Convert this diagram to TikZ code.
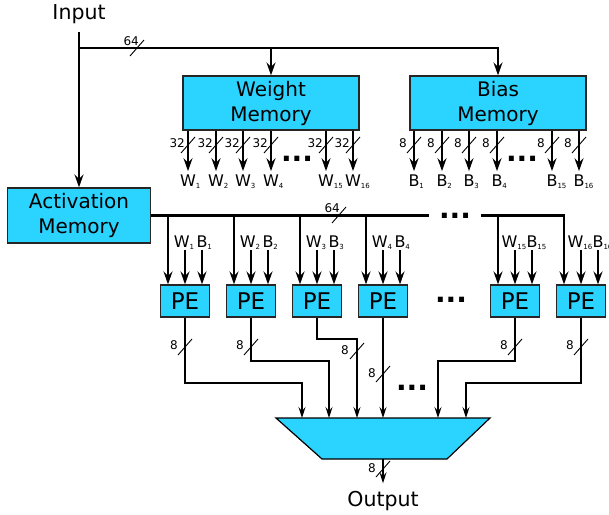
\documentclass[tikz,border=0pt]{standalone}
\usepackage{fontspec}
\setmainfont{DejaVu Sans}
\usetikzlibrary{arrows.meta}

\definecolor{memcyan}{RGB}{43,211,255}

\newcommand{\wsub}[1]{\raisebox{-2pt}{\fontsize{7}{7}\selectfont #1}}
\newcommand{\busw}[5]{%
	\draw[slash] (#1-7,#2+8) -- (#1+7,#2-8);
	\node[num,anchor=east] (s#1x#2) at ({#1+(#4)},{#2+(#5)}) {#3};}

\tikzset{
	mem/.style={draw=black!85,line width=1.2pt,fill=memcyan,minimum width=176pt,minimum height=54pt,inner sep=0pt,align=center,font=\fontsize{20}{25}\selectfont},
	pebox/.style={draw=black!85,line width=1.2pt,fill=memcyan,minimum width=49pt,minimum height=32pt,inner sep=0pt,font=\fontsize{23}{23}\selectfont},
	muxbox/.style={draw=black,line width=1.2pt,fill=memcyan,line join=miter},
	bus/.style={line width=2.2pt},
	barrow/.style={line width=2.2pt,-{Stealth[length=13pt,width=9pt,inset=4.5pt]}},
	pout/.style={line width=1.3pt,-{Stealth[length=11pt,width=7pt,inset=4pt]}},
	slash/.style={line width=0.9pt},
	num/.style={inner sep=0pt,font=\fontsize{12}{12}\selectfont},
	wlbl/.style={inner sep=0pt,font=\fontsize{16}{16}\selectfont},
	olbl/.style={wlbl,outer sep=4pt},
	ellip/.style={inner sep=0pt,font=\fontsize{28}{28}\selectfont\bfseries},
	io/.style={inner sep=0pt,outer sep=8.5pt,font=\fontsize{20.5}{20.5}\selectfont},
}

\begin{document}
\begin{tikzpicture}[x=1pt,y=-1pt]
	\useasboundingbox (0,0) rectangle (609,514);
	
	%Speicher
	\node[io] (in) at (79,14) {Input};
	\node[mem,minimum width=143pt,minimum height=55pt] (amem) at (79,215.5) {Activation\\Memory};
	\node[mem] (wmem) at (271,103) {Weight\\Memory};
	\node[mem] (bmem) at (498,103) {Bias\\Memory};
	\coordinate (j) at (79,48);
	\draw[barrow] (in) -- (amem);
	\draw[barrow] (j) -| (wmem);
	\draw[barrow] (j) -| (bmem);
	\busw{137}{48}{64}{2}{-7}
	
	%Gewichte
	\node[olbl] (w1) at (188,182) {W\rlap{\wsub{1}}};
	\node[olbl] (w2) at (216,182) {W\rlap{\wsub{2}}};
	\node[olbl] (w3) at (243,182) {W\rlap{\wsub{3}}};
	\node[olbl] (w4) at (271,182) {W\rlap{\wsub{4}}};
	\node[olbl] (w15) at (326,182) {W\rlap{\wsub{15}}};
	\node[olbl] (w16) at (353,182) {W\rlap{\wsub{16}}};
	\draw[barrow] (wmem.south -| w1) -- (w1.north);
	\draw[barrow] (wmem.south -| w2) -- (w2.north);
	\draw[barrow] (wmem.south -| w3) -- (w3.north);
	\draw[barrow] (wmem.south -| w4) -- (w4.north);
	\draw[barrow] (wmem.south -| w15) -- (w15.north);
	\draw[barrow] (wmem.south -| w16) -- (w16.north);
	\busw{188}{145}{32}{-3}{-2}
	\busw{216}{145}{32}{-3}{-2}
	\busw{243}{145}{32}{-3}{-2}
	\busw{271}{145}{32}{-3}{-2}
	\busw{326}{145}{32}{-3}{-2}
	\busw{353}{145}{32}{-3}{-2}
	\node[ellip] (wdots) at (297,159) {...};
	
	%Bias
	\node[olbl] (b1) at (414,182) {B\rlap{\wsub{1}}};
	\node[olbl] (b2) at (442,182) {B\rlap{\wsub{2}}};
	\node[olbl] (b3) at (469,182) {B\rlap{\wsub{3}}};
	\node[olbl] (b4) at (497,182) {B\rlap{\wsub{4}}};
	\node[olbl] (b15) at (552,182) {B\rlap{\wsub{15}}};
	\node[olbl] (b16) at (579,182) {B\rlap{\wsub{16}}};
	\draw[barrow] (bmem.south -| b1) -- (b1.north);
	\draw[barrow] (bmem.south -| b2) -- (b2.north);
	\draw[barrow] (bmem.south -| b3) -- (b3.north);
	\draw[barrow] (bmem.south -| b4) -- (b4.north);
	\draw[barrow] (bmem.south -| b15) -- (b15.north);
	\draw[barrow] (bmem.south -| b16) -- (b16.north);
	\busw{414}{145}{8}{-7}{-2}
	\busw{442}{145}{8}{-7}{-2}
	\busw{469}{145}{8}{-7}{-2}
	\busw{497}{145}{8}{-7}{-2}
	\busw{552}{145}{8}{-7}{-2}
	\busw{579}{145}{8}{-7}{-2}
	\node[ellip] (bdots) at (522,159) {...};
	
	%PEs
	\node[pebox] (pe1) at (185,301) {PE};
	\node[pebox] (pe2) at (251,301) {PE};
	\node[pebox] (pe3) at (317,301) {PE};
	\node[pebox] (pe4) at (383,301) {PE};
	\node[pebox] (pe15) at (515,301) {PE};
	\node[pebox] (pe16) at (581,301) {PE};
	\node[ellip] (pdots) at (451,300) {...};
	
	%Aktivierungsbus
	\node[ellip] (adots) at (455,215.5) {...};
	\draw[bus] (amem) -- ([xshift=-10pt]adots.west);
	\draw[barrow] ([xshift=10pt]adots.east) -| ([xshift=-17pt]pe16.north);
	\busw{339}{215}{64}{1}{-7}
	\draw[barrow] ([xshift=-17pt,yshift=69pt]pe1.north) -- ([xshift=-17pt]pe1.north);
	\draw[barrow] ([xshift=-17pt,yshift=69pt]pe2.north) -- ([xshift=-17pt]pe2.north);
	\draw[barrow] ([xshift=-17pt,yshift=69pt]pe3.north) -- ([xshift=-17pt]pe3.north);
	\draw[barrow] ([xshift=-17pt,yshift=69pt]pe4.north) -- ([xshift=-17pt]pe4.north);
	\draw[barrow] ([xshift=-17pt,yshift=69pt]pe15.north) -- ([xshift=-17pt]pe15.north);
	
	%W und B
	\draw[barrow] ([yshift=34pt]pe1.north) -- (pe1.north);
	\draw[barrow] ([xshift=17pt,yshift=34pt]pe1.north) -- ([xshift=17pt]pe1.north);
	\node[wlbl,anchor=south] (pw1) at ([xshift=-1pt,yshift=35pt]pe1.north) {W\wsub{1}};
	\node[wlbl,anchor=south] (pb1) at ([xshift=17pt,yshift=35pt]pe1.north) {B\rlap{\wsub{1}}};
	\draw[barrow] ([yshift=34pt]pe2.north) -- (pe2.north);
	\draw[barrow] ([xshift=17pt,yshift=34pt]pe2.north) -- ([xshift=17pt]pe2.north);
	\node[wlbl,anchor=south] (pw2) at ([xshift=-1pt,yshift=35pt]pe2.north) {W\wsub{2}};
	\node[wlbl,anchor=south] (pb2) at ([xshift=17pt,yshift=35pt]pe2.north) {B\rlap{\wsub{2}}};
	\draw[barrow] ([yshift=34pt]pe3.north) -- (pe3.north);
	\draw[barrow] ([xshift=17pt,yshift=34pt]pe3.north) -- ([xshift=17pt]pe3.north);
	\node[wlbl,anchor=south] (pw3) at ([xshift=-1pt,yshift=35pt]pe3.north) {W\wsub{3}};
	\node[wlbl,anchor=south] (pb3) at ([xshift=17pt,yshift=35pt]pe3.north) {B\rlap{\wsub{3}}};
	\draw[barrow] ([yshift=34pt]pe4.north) -- (pe4.north);
	\draw[barrow] ([xshift=17pt,yshift=34pt]pe4.north) -- ([xshift=17pt]pe4.north);
	\node[wlbl,anchor=south] (pw4) at ([xshift=-1pt,yshift=35pt]pe4.north) {W\wsub{4}};
	\node[wlbl,anchor=south] (pb4) at ([xshift=17pt,yshift=35pt]pe4.north) {B\rlap{\wsub{4}}};
	\draw[barrow] ([yshift=34pt]pe15.north) -- (pe15.north);
	\draw[barrow] ([xshift=17pt,yshift=34pt]pe15.north) -- ([xshift=17pt]pe15.north);
	\node[wlbl,anchor=south] (pw15) at ([xshift=-1pt,yshift=35pt]pe15.north) {W\wsub{15}};
	\node[wlbl,anchor=south] (pb15) at ([xshift=17pt,yshift=35pt]pe15.north) {B\rlap{\wsub{15}}};
	\draw[barrow] ([yshift=34pt]pe16.north) -- (pe16.north);
	\draw[barrow] ([xshift=17pt,yshift=34pt]pe16.north) -- ([xshift=17pt]pe16.north);
	\node[wlbl,anchor=south] (pw16) at ([xshift=-1pt,yshift=35pt]pe16.north) {W\wsub{16}};
	\node[wlbl,anchor=south] (pb16) at ([xshift=17pt,yshift=35pt]pe16.north) {B\rlap{\wsub{16}}};
	
	%Multiplexer
	\draw[muxbox] (276,418) -- (490,418) -- (447,459) -- (322,459) -- cycle;
	\coordinate (muxtop) at (383,418);
	\coordinate (muxbot) at (383,459);
	\node[io] (out) at (383,501.5) {Output};
	\draw[pout] (muxbot) -- (out);
	\busw{383}{469}{8}{-7}{-1}
	
	%Ausgaenge
	\draw[pout] (pe1) -- ++(0,82) -| (muxtop -| 302,0);
	\draw[pout] (pe2) -- ++(0,60) -| (muxtop -| 329,0);
	\draw[pout] (pe3) -- ++(0,38) -| (muxtop -| 357,0);
	\draw[pout] (pe4) -- (muxtop);
	\draw[pout] (pe15) -- ++(0,60) -| (muxtop -| 438,0);
	\draw[pout] (pe16) -- ++(0,82) -| (muxtop -| 466,0);
	\busw{185}{347}{8}{-7}{-2}
	\busw{251}{347}{8}{-7}{-2}
	\busw{357}{351}{8}{-8}{-1}
	\busw{383}{374}{8}{-7}{-1}
	\busw{515}{347}{8}{-7}{-2}
	\busw{581}{347}{8}{-7}{-2}
	\node[ellip] (mdots) at (412,388) {...};
	
\end{tikzpicture}
\end{document}
